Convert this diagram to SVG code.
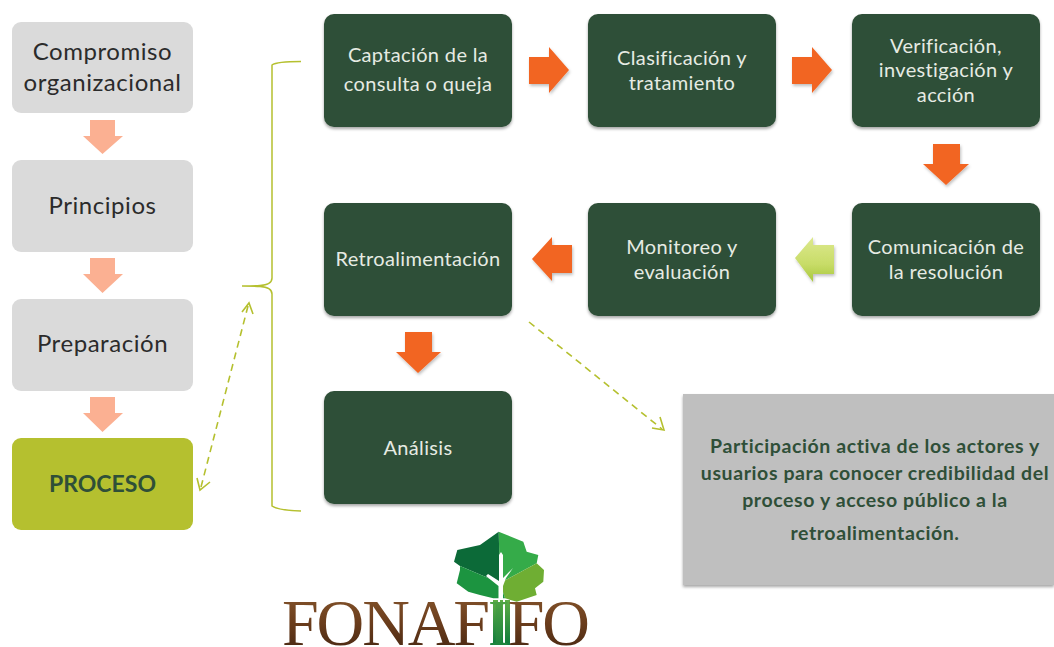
<svg xmlns="http://www.w3.org/2000/svg" width="1054" height="647" viewBox="0 0 1054 647">
<style>
text{font-family:"Lato","Noto Sans","Liberation Sans",sans-serif;text-anchor:middle}
.light{fill:#dadada}
.dark{fill:#2f4f38;filter:url(#sh)}
.dt{fill:#e6ebe3;font-size:20px;letter-spacing:.35px}
.lt{fill:#2b2b2b;font-size:24px;letter-spacing:.55px}
.gt{fill:#2f4f38;font-size:19.5px;font-weight:700;letter-spacing:.6px}
.peach{fill:#fbb092}
.orange{fill:#f26522;filter:url(#sh2)}
.dash{fill:none;stroke:#b5c02f;stroke-width:1.6;stroke-dasharray:7 5}
.head{fill:none;stroke:#b5c02f;stroke-width:1.6}
</style>
<defs>
<filter id="sh" x="-5%" y="-5%" width="110%" height="112%"><feDropShadow dx="0" dy="2" stdDeviation="1.5" flood-color="#000" flood-opacity=".35"/></filter>
<filter id="sh2" x="-15%" y="-15%" width="130%" height="130%"><feDropShadow dx="1" dy="2" stdDeviation="1.5" flood-color="#000" flood-opacity=".25"/></filter>
<linearGradient id="lime" x1="0" y1="0" x2="0" y2="1"><stop offset="0" stop-color="#dde98e"/><stop offset=".6" stop-color="#c8dc68"/><stop offset="1" stop-color="#a8c83c"/></linearGradient>
<linearGradient id="brown" x1="0" y1="0" x2="0" y2="1"><stop offset="0" stop-color="#8a5a30"/><stop offset=".5" stop-color="#6b3d1c"/><stop offset="1" stop-color="#3f2210"/></linearGradient>
<linearGradient id="trunk" x1="0" y1="0" x2="0" y2="1"><stop offset="0" stop-color="#5fae45"/><stop offset="1" stop-color="#0f7a3c"/></linearGradient>
</defs>
<rect width="1054" height="647" fill="#fff"/>

<g id="connectors">
<path id="brace" d="M301 61.500C288 61.500 276 62 272 65V278C272 282 268 285 260 285.500C254 286 248 286 242 286C248 286 254 286 260 286.500C268 287 272 290 272 294V506C276 509 288 510.500 301 511" fill="none" stroke="#b5c02f" stroke-width="1.500"/>
<path class="dash" d="M248 306L201 487"/>
<path class="head" d="M242 312L249 303L253 314M197 478L200 490L210 482"/>
<path class="dash" d="M529 322L662 429"/>
<path class="head" d="M652 428L664 430L660 417"/>
<path class="peach" d="M90 120H115V136H123L102.500 154L83 136H90Z"/>
<path class="peach" d="M90 258H115V274H123L102.500 293L83 274H90Z"/>
<path class="peach" d="M90 397H115V413H123L102.500 432L83 413H90Z"/>
<path class="orange" d="M529 57H549V47L569 70L549 93V84H529Z"/>
<path class="orange" d="M792 57H812V47L832 70L812 93V84H792Z"/>
<path class="orange" d="M933 144H960V164H969L946 185L923 164H933Z"/>
<path d="M834 245H813V237L795 258L813 282V274H834Z" fill="url(#lime)" filter="url(#sh2)"/>
<path class="orange" d="M572 245H552V237L532 259L552 281V273H572Z"/>
<path class="orange" d="M405 332H432V352H441L418 373L396 352H405Z"/>
</g>

<g id="n-compromiso"><rect class="light" x="12" y="22" width="181" height="91" rx="9"/><text class="lt" x="102.500" y="60">Compromiso</text><text class="lt" x="102.500" y="91">organizacional</text></g>
<g id="n-principios"><rect class="light" x="12" y="160" width="181" height="92" rx="9"/><text class="lt" x="102.500" y="214">Principios</text></g>
<g id="n-preparacion"><rect class="light" x="12" y="299" width="181" height="92" rx="9"/><text class="lt" x="102.500" y="352">Preparación</text></g>
<g id="n-proceso"><rect x="12" y="438" width="181" height="92" rx="9" fill="#b5c02f"/><text x="102.500" y="492" font-size="23" font-weight="700" fill="#2f4f38">PROCESO</text></g>

<g id="n-captacion"><rect class="dark" x="324" y="14" width="188" height="113" rx="10"/><text class="dt" x="418" y="62">Captación de la</text><text class="dt" x="418" y="91">consulta o queja</text></g>
<g id="n-clasificacion"><rect class="dark" x="588" y="14" width="188" height="113" rx="10"/><text class="dt" x="682" y="65">Clasificación y</text><text class="dt" x="682" y="90">tratamiento</text></g>
<g id="n-verificacion"><rect class="dark" x="852" y="14" width="188" height="113" rx="10"/><text class="dt" x="946" y="53">Verificación,</text><text class="dt" x="946" y="77">investigación y</text><text class="dt" x="946" y="102">acción</text></g>
<g id="n-comunicacion"><rect class="dark" x="852" y="203" width="188" height="113" rx="10"/><text class="dt" x="946" y="254">Comunicación de</text><text class="dt" x="946" y="279">la resolución</text></g>
<g id="n-monitoreo"><rect class="dark" x="588" y="203" width="188" height="113" rx="10"/><text class="dt" x="682" y="254">Monitoreo y</text><text class="dt" x="682" y="279">evaluación</text></g>
<g id="n-retro"><rect class="dark" x="324" y="203" width="188" height="113" rx="10"/><text class="dt" x="418" y="266">Retroalimentación</text></g>
<g id="n-analisis"><rect class="dark" x="324" y="391" width="188" height="113" rx="10"/><text class="dt" x="418" y="455">Análisis</text></g>

<g id="n-participacion"><rect x="683" y="394" width="371" height="191" fill="#bfbfbf" filter="url(#sh)"/>
<text class="gt" x="875" y="453">Participación activa de los actores y</text>
<text class="gt" x="875" y="480">usuarios para conocer credibilidad del</text>
<text class="gt" x="875" y="507">proceso y acceso público a la</text>
<text class="gt" x="875" y="540">retroalimentación.</text></g>

<g id="logo">
<path d="M498.700 531.700L523.300 541.700L526.700 551.700L538.300 555L536.700 563.300L500 583Z" fill="#35ab49"/>
<path d="M536.700 563.300L544 570L543.300 581.700L535 588.300L536.700 595L516.700 601.700L505 598.300L500 583Z" fill="#6fae33"/>
<path d="M498.700 531.700L480 545L457.300 550L454 561.700L460 566L500 583Z" fill="#0c6a38"/>
<path d="M460 566L460 570L456.700 583.300L468.300 591.700L480 595L493.300 598.300L505 598.300L500 583Z" fill="#1c9440"/>
<path d="M499 555V581L488 574L486 576L498.500 586V600H503V586L506 578L513 568L503 578V555L501 552Z" fill="#fff"/>
<rect x="493" y="600" width="17" height="45" fill="url(#trunk)"/>
<path d="M498 600H500V645H498ZM503 600H505V645H503Z" fill="#fff"/>
<text x="436" y="645" font-size="66" textLength="308" lengthAdjust="spacing" fill="url(#brown)" style="font-family:'Liberation Serif',serif">FONAF<tspan fill="url(#trunk)">I</tspan>FO</text>
</g>
</svg>
